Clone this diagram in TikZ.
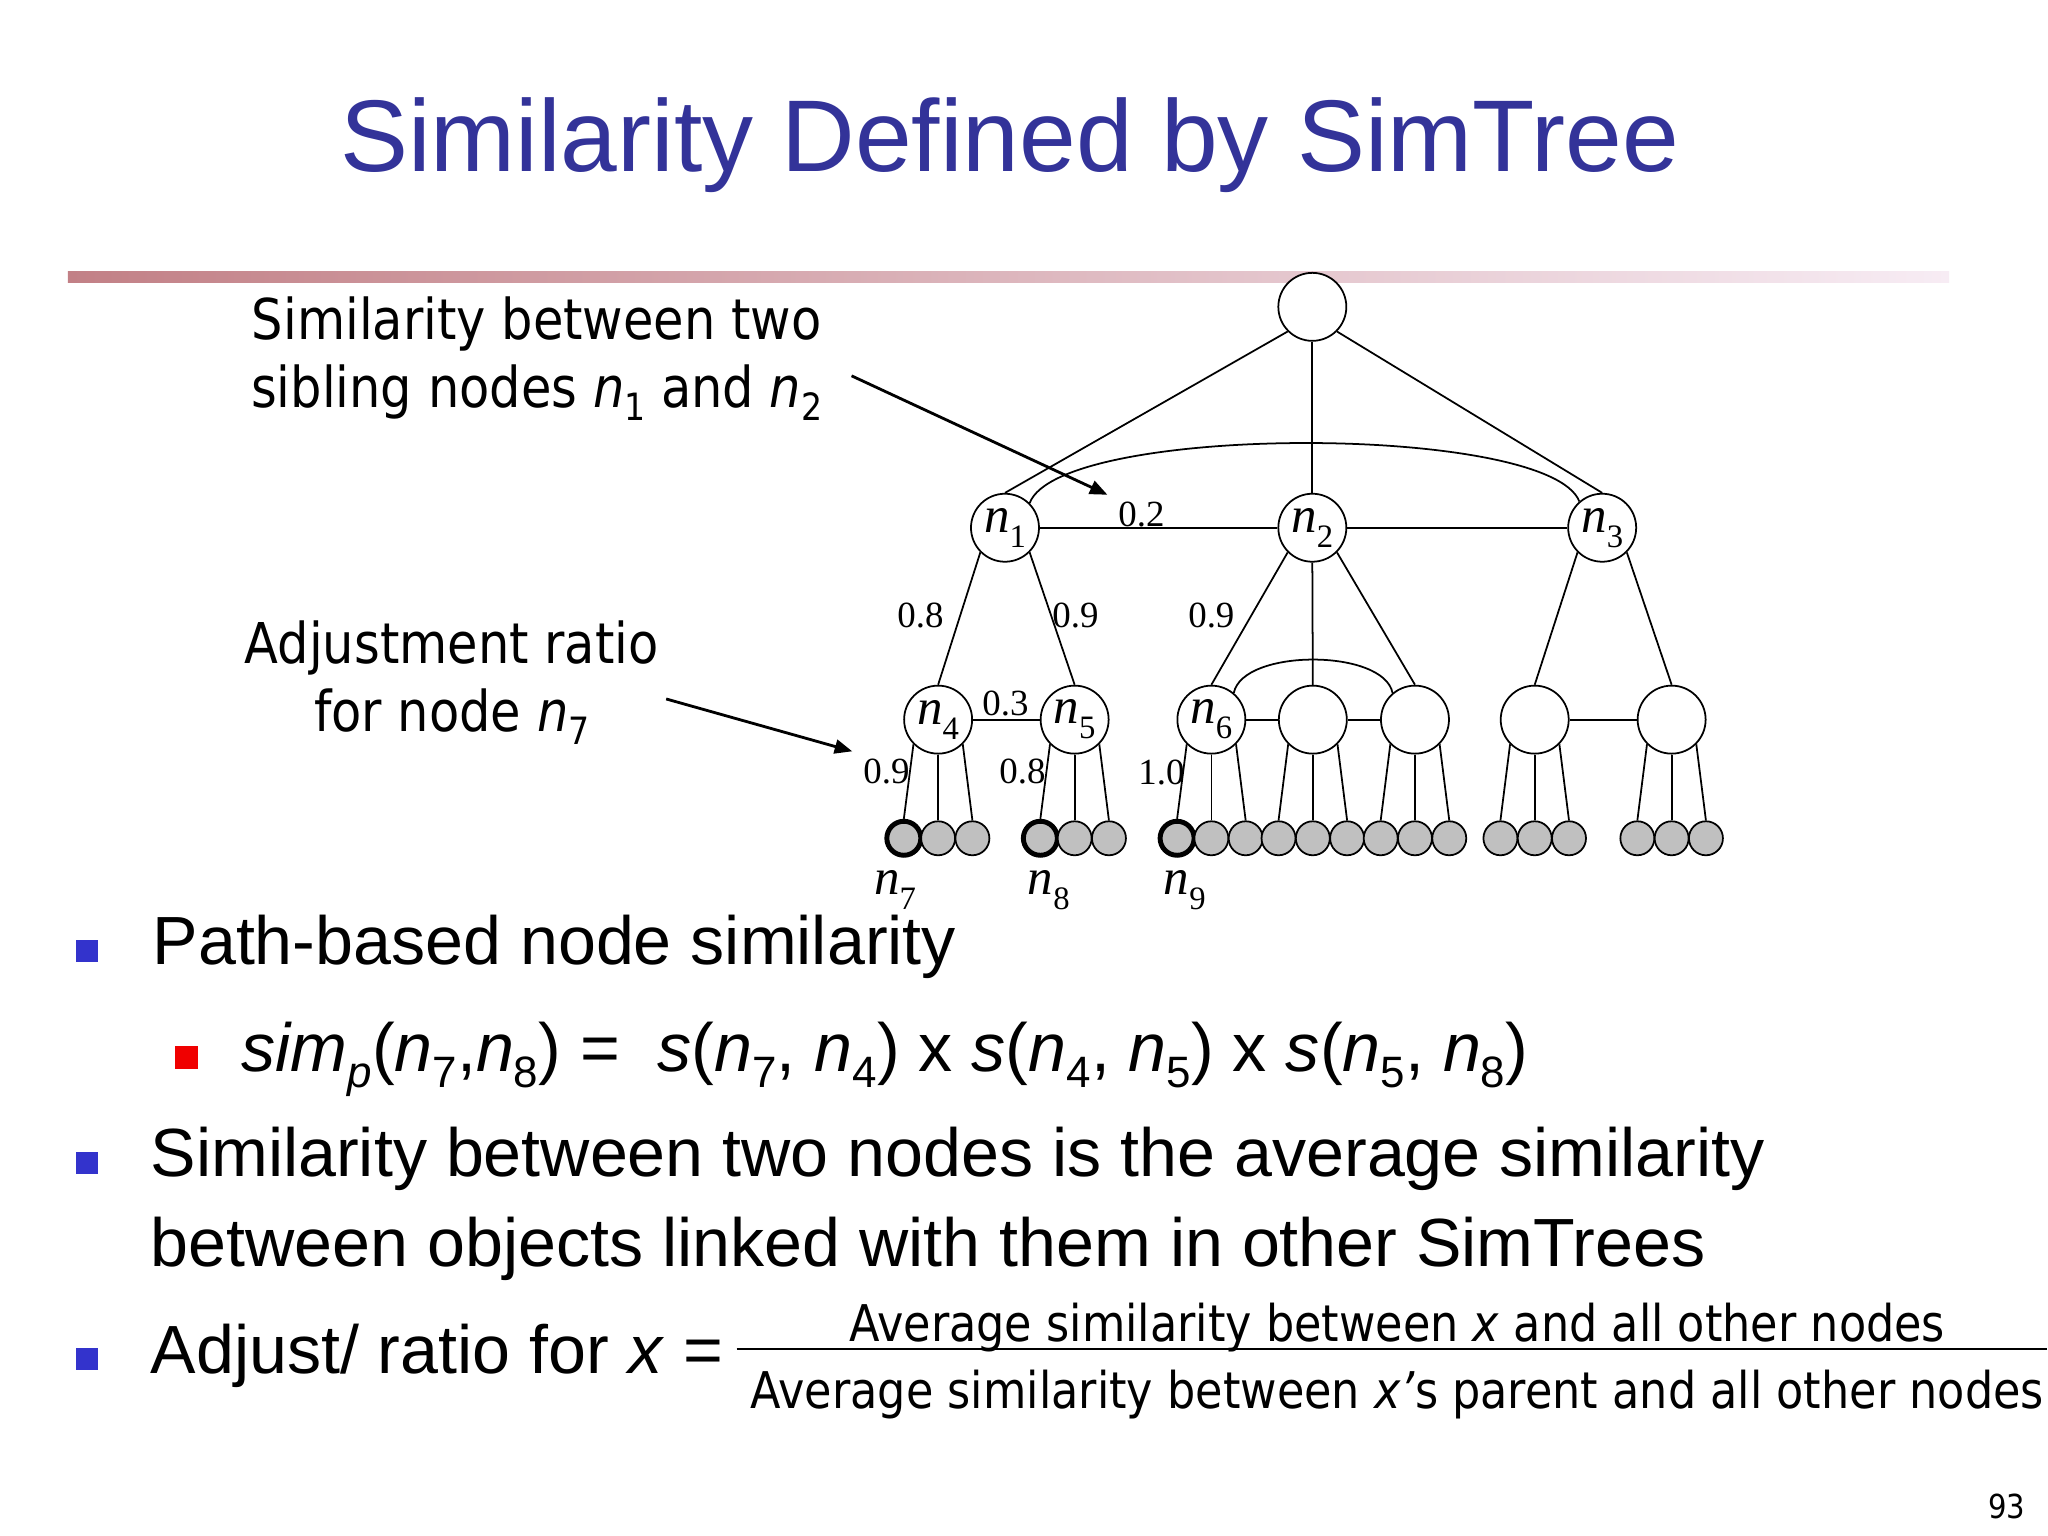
\documentclass[tikz,border=0pt]{standalone}
\usepackage{fontspec}
\setmainfont{Liberation Sans}
\newfontfamily\tms{Liberation Serif}
\newfontfamily\tah[FakeStretch=0.88]{DejaVu Sans}
\usetikzlibrary{arrows.meta}
\definecolor{titleblue}{RGB}{51,51,153}
\definecolor{bulletblue}{RGB}{51,51,204}
\definecolor{bulletred}{RGB}{240,0,0}
\definecolor{barleft}{RGB}{194,128,134}
\definecolor{barright}{RGB}{247,236,244}
\definecolor{leafgray}{RGB}{192,192,192}
% subscripts
\newcommand\tsb[1]{\raisebox{-0.15cm}{\fontsize{9.3}{10}\selectfont #1}}
\newcommand\tnn[1]{\textit{n}\tsb{#1}}
\newcommand\bsb[1]{\raisebox{-0.13cm}{\fontsize{10.7}{12}\selectfont #1}}
\newcommand\asb[1]{\raisebox{-0.16cm}{\fontsize{12.5}{14}\selectfont #1}}
\begin{document}
\begin{tikzpicture}[x=0.01cm,y=-0.01cm,
  inner/.style={circle,draw,line width=0.5pt,minimum size=0.68cm,inner sep=0pt,fill=white,
    font=\tms\fontsize{14.5}{16}\selectfont},
  leaf/.style={circle,draw,line width=0.5pt,fill=leafgray,minimum size=0.34cm,inner sep=0pt},
  thickleaf/.style={leaf,line width=1.4pt},
  tree/.style={line width=0.5pt},
  edgelbl/.style={inner sep=0pt,font=\tms\fontsize{10.5}{12}\selectfont},
  leaflbl/.style={inner sep=0pt,anchor=base,font=\tms\fontsize{14.5}{16}\selectfont},
  callout/.style={line width=0.8pt,-{Triangle[length=5pt,width=4pt]}},
  anno/.style={inner sep=0pt,anchor=base,font=\tah\fontsize{16}{19}\selectfont},
  body/.style={inner sep=0pt,anchor=base west,font=\fontsize{19.4}{23}\selectfont},
  frac/.style={inner sep=0pt,anchor=base,font=\tah\fontsize{14.4}{17}\selectfont},
  bluesq/.style={rectangle,fill=bulletblue,minimum width=0.22cm,minimum height=0.22cm,inner sep=0pt},
  redsq/.style={rectangle,fill=bulletred,minimum width=0.23cm,minimum height=0.23cm,inner sep=0pt}
]
\fill[white] (0,0) rectangle (2048,1536);

% title and bar
\node[inner sep=0pt,anchor=base,text=titleblue,font=\fontsize{29}{34}\selectfont] (title) at (1010,172) {Similarity Defined by SimTree};
\shade[left color=barleft,right color=barright] (68,272) rectangle (1950,283);

% tree nodes
\node[inner] (root) at (1313,307) {};
\node[inner] (n1) at (1005.5,528) {\tnn{1}};
\node[inner] (n2) at (1313,528) {\tnn{2}};
\node[inner] (n3) at (1603,528) {\tnn{3}};
\node[inner] (n4) at (938.6,720) {\tnn{4}};
\node[inner] (n5) at (1075.2,720) {\tnn{5}};
\node[inner] (n6) at (1212,720) {\tnn{6}};
\node[inner] (m2) at (1313.5,720) {};
\node[inner] (m3) at (1415.7,720) {};
\node[inner] (m4) at (1535.5,720) {};
\node[inner] (m5) at (1672.5,720) {};

% leaves
\foreach \p/\t in {n4/thickleaf,n5/thickleaf,n6/thickleaf,m2/leaf,m3/leaf,m4/leaf,m5/leaf}{
  \path (\p) ++(-34.3,118.7) node[\t] (\p a) {};
  \path (\p) ++(0,118.7) node[leaf] (\p b) {};
  \path (\p) ++(34.3,118.7) node[leaf] (\p c) {};
  \draw[tree] (\p.-135) -- (\p a.north);
  \draw[tree] (\p.south) -- (\p b.north);
  \draw[tree] (\p.-45) -- (\p c.north);
}

% parent-child edges
\draw[tree] (root.-135) -- (n1.north);
\draw[tree] (root.south) -- (n2.north);
\draw[tree] (root.-45) -- (n3.north);
\draw[tree] (n1.-135) -- (n4.north);
\draw[tree] (n1.-45) -- (n5.north);
\draw[tree] (n2.-135) -- (n6.north);
\draw[tree] (n2.south) -- (m2.north);
\draw[tree] (n2.-45) -- (m3.north);
\draw[tree] (n3.-135) -- (m4.north);
\draw[tree] (n3.-45) -- (m5.north);

% sibling edges
\draw[tree] (n1) -- (n2);
\draw[tree] (n2) -- (n3);
\draw[tree] (n1.45) .. controls +(30,-80) and +(-30,-78) .. (n3.131);
\draw[tree] (n4) -- (n5);
\draw[tree] (n6) -- (m2);
\draw[tree] (m2) -- (m3);
\draw[tree] (n6.50) .. controls +(9,-44.5) and +(-9,-44.5) .. (m3.130);
\draw[tree] (m4) -- (m5);

% edge labels
\node[edgelbl] (l02) at (1142,515) {0.2};
\node[edgelbl] (l08a) at (921,616) {0.8};
\node[edgelbl] (l09a) at (1076,616) {0.9};
\node[edgelbl] (l09b) at (1212,616) {0.9};
\node[edgelbl] (l03) at (1006,704) {0.3};
\node[edgelbl] (l09c) at (887,772) {0.9};
\node[edgelbl] (l08b) at (1023,772) {0.8};
\node[edgelbl] (l10) at (1162,773) {1.0};

% leaf labels
\node[leaflbl] (n7) at (895.5,895) {\tnn{7}};
\node[leaflbl] (n8) at (1049.4,895) {\tnn{8}};
\node[leaflbl] (n9) at (1185.5,895) {\tnn{9}};

% annotations
\node[anno] (ann1a) at (537,340) {Similarity between two};
\node[anno] (ann1b) at (537,408) {sibling nodes \textit{n}\bsb{1} and \textit{n}\bsb{2}};
\node[anno] (ann2a) at (452,664) {Adjustment ratio};
\node[anno] (ann2b) at (452,732) {for node \textit{n}\bsb{7}};
\coordinate (c1s) at (852,376);
\coordinate (c1e) at (1108,495);
\coordinate (c2s) at (666.5,699.3);
\coordinate (c2e) at (852.7,751.7);
\draw[callout] (c1s) -- (c1e);
\draw[callout] (c2s) -- (c2e);

% bullets
\node[bluesq] (b1) at (87,951) {};
\node[body] (t1) at (152,965) {Path-based node similarity};
\node[redsq] (b2) at (187,1058) {};
\node[body] (t2) at (241,1072) {\textit{sim}\asb{\textit{p}}(\textit{n}\asb{7},\textit{n}\asb{8}) =\ \ \textit{s}(\textit{n}\asb{7}, \textit{n}\asb{4}) x \textit{s}(\textit{n}\asb{4}, \textit{n}\asb{5}) x \textit{s}(\textit{n}\asb{5}, \textit{n}\asb{8})};
\node[bluesq] (b3) at (87,1164) {};
\node[body] (t3a) at (150,1177) {Similarity between two nodes is the average similarity};
\node[body] (t3b) at (150,1267) {between objects linked with them in other SimTrees};
\node[bluesq] (b4) at (87,1360) {};
\node[body] (t4) at (150,1374) {Adjust/ ratio for \textit{x} =};
\coordinate (fl) at (737,1350);
\coordinate (fr) at (2048,1350);
\draw[line width=0.6pt] (fl) -- (fr);
\node[frac] (num) at (1398,1342) {Average similarity between \textit{x} and all other nodes};
\node[frac] (den) at (1398,1409) {Average similarity between \textit{x’}s parent and all other nodes};

% page number
\node[inner sep=0pt,anchor=base east,font=\tah\fontsize{9.4}{11}\selectfont] (page) at (2027,1519) {93};
\end{tikzpicture}
\end{document}
